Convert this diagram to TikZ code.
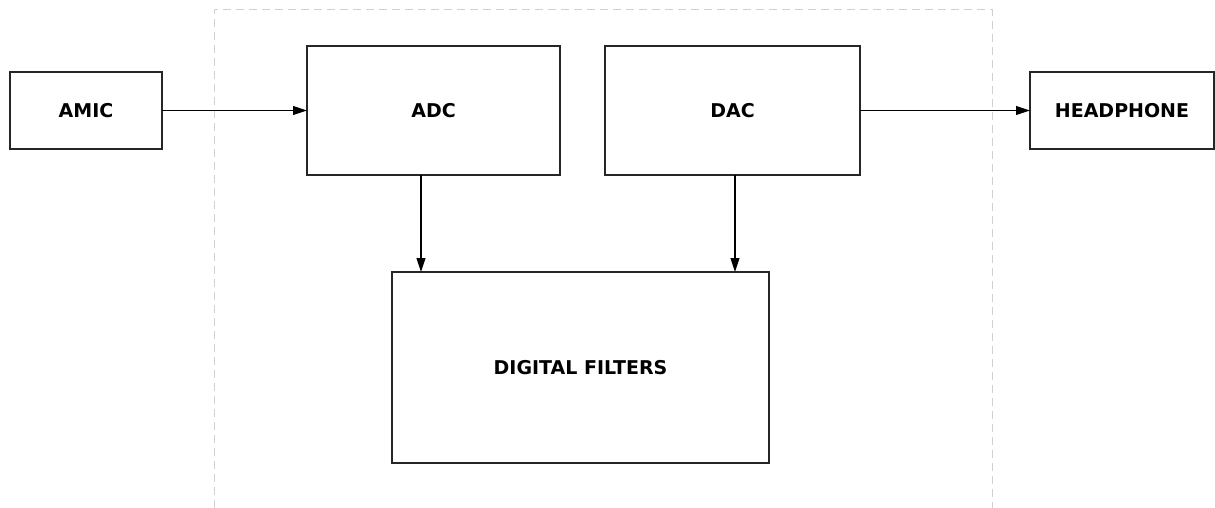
\documentclass[tikz,border=0pt]{standalone}
\usepackage{fontspec}
\setsansfont{DejaVu Sans}
\usetikzlibrary{arrows.meta,calc,positioning}

\tikzset{
  block/.style={draw=black!85, line width=1.1pt, fill=white, inner sep=0pt, outer sep=0pt,
    font=\sffamily\bfseries\fontsize{19}{21}\selectfont},
  link/.style={draw=black, line width=1.1pt, -{Triangle[length=14pt,width=9pt]}},
  frame/.style={draw=black!18, line width=1pt, dash pattern=on 8pt off 5pt}
}

\begin{document}
\begin{tikzpicture}[x=1pt, y=-1pt]
  \useasboundingbox (0,0) rectangle (1215,508);

  % chip boundary, open at the bottom
  \draw[frame] (214,508) -- (214,10) -- (992,10) -- (992,508);

  \node[block, minimum width=152pt, minimum height=77pt] (amic) at (86,110.5) {AMIC};
  \node[block, minimum width=253pt, minimum height=129pt] (adc) at (433.5,110.5) {ADC};
  \node[block, minimum width=255pt, minimum height=129pt] (dac) at (732.5,110.5) {DAC};
  \node[block, minimum width=184pt, minimum height=77pt] (headphone) at (1122,110.5) {HEADPHONE};
  \node[block, minimum width=377pt, minimum height=191pt] (filters) at (580.5,367.5) {DIGITAL FILTERS};

  \draw[link] (amic) -- (adc);
  \draw[link] (dac) -- (headphone);
  \draw[link] ([xshift=29pt]filters.north west |- adc.south) -- ([xshift=29pt]filters.north west);
  \draw[link] ([xshift=-34pt]filters.north east |- dac.south) -- ([xshift=-34pt]filters.north east);

\end{tikzpicture}
\end{document}
